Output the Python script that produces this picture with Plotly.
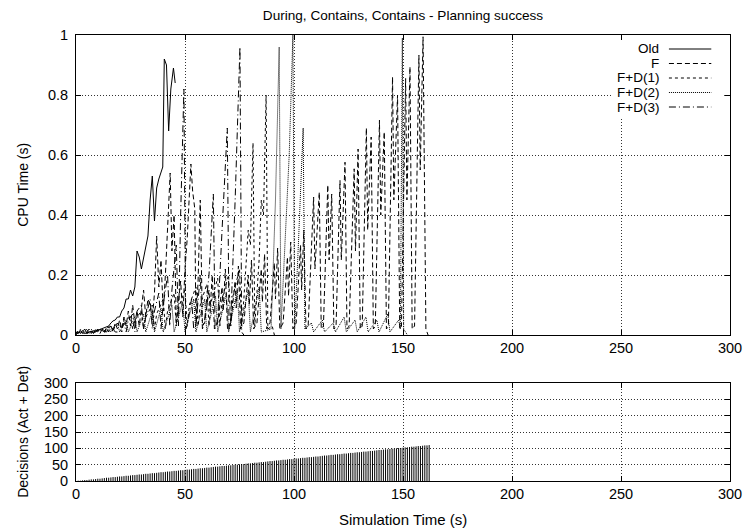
import plotly.graph_objects as go

# ---------------- data ----------------
old_t = [0, 2, 4, 6, 8, 10, 12, 14, 15, 16, 17, 18, 19, 20, 21, 22, 23, 24, 25, 26, 27, 28, 29, 30, 31, 32, 33,
         34, 35, 36, 37, 38, 39, 39.8, 40.5, 41.5, 42.5, 43.5, 44.7, 45.5]
old_y = [0.005, 0.01, 0.005, 0.01, 0.01, 0.015, 0.02, 0.025, 0.03, 0.04, 0.047, 0.05, 0.06, 0.06, 0.08, 0.09,
         0.12, 0.12, 0.15, 0.13, 0.16, 0.28, 0.26, 0.22, 0.26, 0.29, 0.33, 0.45, 0.53, 0.38, 0.49, 0.52, 0.54,
         0.56, 0.92, 0.90, 0.68, 0.82, 0.89, 0.84]

f_t = [0, 1, 2, 3, 4, 5, 6, 7, 8, 9, 10, 11, 12, 13, 14, 15, 16, 17, 18, 19, 20, 21, 22, 23, 24, 25, 26, 27, 28, 29,
       31, 32, 33, 34, 35, 36, 37, 38, 39, 40, 41, 42,
       43.2, 44, 45, 46, 47, 48, 49, 50, 51, 52.7, 53.5, 54.5, 55, 56, 57, 58,
       59, 61, 61.5, 62.5, 63.5,
       65, 67, 67.5, 68.5, 69.5,
       71, 73, 73.5, 74.5, 75.5,
       77, 79, 79.5, 80.5, 81.5,
       83, 85, 85.5, 86.5, 87.5,
       89, 91, 91.5, 92.5, 93.5,
       95, 97, 97.5, 98.5, 99.5,
       101, 103, 103.5, 104.5, 105.5,
       106.5, 109, 109.6, 111.6, 112.5,
       113.5, 115.5, 116.1, 117.3, 118.3,
       119.3, 121.1, 121.7, 123.4, 124.3,
       125.3, 127.6, 128.2, 129.4, 130.4,
       131.3, 133.2, 133.8, 135.4, 136.4,
       137.3, 139.2, 139.8, 141.4, 142.4,
       143.3, 145.2, 145.8, 147.5, 148.5,
       149.3, 151.2, 151.8, 153.2, 154.2,
       155.3, 157.3, 157.9, 159.2, 160.5, 161.5]
f_y = [0.00, 0.01, 0.005, 0.015, 0.005, 0.01, 0.02, 0.005, 0.015, 0.01, 0.02, 0.005, 0.02, 0.01, 0.025, 0.01,
       0.03, 0.015, 0.04, 0.02, 0.05, 0.02, 0.06, 0.03, 0.08, 0.03, 0.10, 0.04, 0.08, 0.03,
       0.15, 0.06, 0.12, 0.10, 0.05, 0.14, 0.33, 0.16, 0.25, 0.08, 0.20, 0.35,
       0.54, 0.28, 0.40, 0.04, 0.10, 0.18, 0.06, 0.22, 0.32, 0.57, 0.48, 0.42, 0.03, 0.18, 0.45, 0.03,
       0.04, 0.15, 0.08, 0.20, 0.02,
       0.04, 0.16, 0.08, 0.22, 0.02,
       0.04, 0.18, 0.09, 0.23, 0.02,
       0.04, 0.20, 0.10, 0.25, 0.02,
       0.04, 0.22, 0.11, 0.27, 0.02,
       0.04, 0.24, 0.12, 0.29, 0.02,
       0.04, 0.26, 0.13, 0.31, 0.02,
       0.04, 0.30, 0.15, 0.35, 0.02,
       0.03, 0.46, 0.22, 0.476, 0.02,
       0.03, 0.50, 0.25, 0.47, 0.02,
       0.03, 0.515, 0.25, 0.576, 0.02,
       0.03, 0.554, 0.28, 0.62, 0.02,
       0.03, 0.69, 0.35, 0.66, 0.02,
       0.03, 0.716, 0.40, 0.677, 0.02,
       0.03, 0.86, 0.45, 0.80, 0.02,
       0.03, 0.855, 0.45, 0.894, 0.02,
       0.03, 0.933, 0.55, 0.994, 0.02, 0.0]

d1_t = [0, 1, 2, 3, 4, 5, 6, 7, 8, 9, 10, 12, 13, 14, 16, 17, 18, 20, 21, 22,
        25, 26, 27, 30, 31, 32, 35, 36, 37, 40, 41, 42, 45, 46, 47, 50, 51, 52, 55, 56, 57,
        60, 61, 62, 65, 66, 67, 70, 71, 72, 75, 76, 77,
        79, 80, 81.2, 82, 84, 85, 86, 87.2, 88, 90, 91]
d1_y = [0.005, 0.015, 0.005, 0.01, 0.02, 0.005, 0.015, 0.01, 0.02, 0.005, 0.015, 0.02, 0.005, 0.02,
        0.03, 0.01, 0.035, 0.04, 0.01, 0.05,
        0.06, 0.02, 0.05, 0.08, 0.02, 0.06, 0.10, 0.02, 0.07, 0.12, 0.02, 0.08, 0.14, 0.03, 0.09,
        0.15, 0.03, 0.10, 0.16, 0.03, 0.10, 0.17, 0.03, 0.11, 0.19, 0.03, 0.12, 0.20, 0.03, 0.13,
        0.22, 0.03, 0.12,
        0.35, 0.30, 0.64, 0.03, 0.25, 0.45, 0.40, 0.80, 0.02, 0.03, 0.0]

d2_t = [0, 1, 2, 3, 4, 5, 6, 7, 8, 9, 10, 11, 13,
        15, 16, 19, 20, 23, 24, 27, 28, 31, 32, 35, 36, 39, 40, 44, 45, 49, 50, 54, 55, 59, 60, 64, 65,
        69, 70, 74, 75, 79, 80, 84, 85,
        89.5, 91.5, 93.2, 94, 96, 97.8, 99.5, 100.3, 102, 104.2, 105,
        108, 109, 113, 114, 118, 119, 123, 124, 128, 129, 133, 134, 138, 139, 143, 144,
        148, 148.8, 149.7, 150.3, 152]
d2_y = [0.01, 0.005, 0.02, 0.005, 0.01, 0.02, 0.005, 0.015, 0.005, 0.02, 0.01, 0.02, 0.01,
        0.03, 0.01, 0.04, 0.01, 0.05, 0.01, 0.06, 0.01, 0.07, 0.01, 0.08, 0.01, 0.09, 0.01, 0.10, 0.01,
        0.11, 0.01, 0.12, 0.01, 0.12, 0.01, 0.13, 0.01, 0.14, 0.01, 0.15, 0.01, 0.15, 0.01, 0.16, 0.01,
        0.02, 0.45, 0.96, 0.02, 0.35, 0.6, 1.0, 0.02, 0.3, 0.69, 0.02,
        0.04, 0.01, 0.05, 0.01, 0.04, 0.01, 0.06, 0.01, 0.05, 0.01, 0.06, 0.01, 0.05, 0.01, 0.07, 0.01,
        0.05, 0.02, 0.99, 0.02, 0.0]

d3_t = [0, 1, 2, 3, 4, 5, 6, 7, 8, 9, 10, 12, 14, 16, 18, 20, 22, 23, 24, 26, 27, 28, 30, 31, 32, 34, 35, 36,
        38, 39, 40, 42, 43, 44, 46, 47, 48, 49.5, 50.3, 51, 53, 54, 55, 57, 58, 59, 61, 63, 63.8, 65, 67, 69.4,
        70.2, 71, 73, 75.2, 76, 77]
d3_y = [0.01, 0.005, 0.015, 0.01, 0.02, 0.005, 0.01, 0.02, 0.005, 0.015, 0.01, 0.02, 0.01, 0.03, 0.01, 0.01,
        0.04, 0.01, 0.05, 0.07, 0.01, 0.08, 0.10, 0.02, 0.06, 0.12, 0.02, 0.08, 0.14, 0.02, 0.10, 0.20, 0.03,
        0.15, 0.30, 0.03, 0.40, 0.82, 0.02, 0.03, 0.12, 0.02, 0.03, 0.20, 0.02, 0.05, 0.20, 0.47, 0.02, 0.05,
        0.35, 0.69, 0.02, 0.05, 0.45, 0.96, 0.01, 0.0]

dec_t = list(range(1, 163))
dec_v = [1, 1, 2, 3, 3, 4, 5, 5, 6, 7,
         7, 8, 9, 10, 10, 11, 12, 12, 13, 14,
         14, 15, 16, 16, 17, 18, 18, 19, 20, 20,
         21, 22, 22, 23, 24, 24, 25, 26, 27, 27,
         28, 29, 29, 30, 31, 31, 32, 33, 33, 34,
         35, 35, 36, 37, 37, 38, 39, 39, 40, 41,
         41, 42, 43, 44, 44, 45, 46, 46, 47, 48,
         48, 49, 50, 50, 51, 52, 52, 53, 54, 54,
         55, 56, 56, 57, 58, 58, 59, 60, 61, 61,
         62, 63, 63, 64, 65, 65, 66, 67, 67, 68,
         69, 69, 70, 71, 71, 72, 73, 73, 74, 75,
         75, 76, 77, 78, 78, 79, 80, 80, 81, 82,
         82, 83, 84, 84, 85, 86, 86, 87, 88, 88,
         89, 90, 90, 91, 92, 92, 93, 94, 95, 95,
         96, 97, 97, 98, 99, 99, 100, 101, 101, 102,
         103, 103, 104, 105, 105, 106, 107, 107, 108, 109, 109, 110]

series_names = ["Old", "F", "F+D(1)", "F+D(2)", "F+D(3)"]
series_dash = ["solid", "5px,3px", "3px,3px", "1px,1px", "7px,3px,1px,3px"]

title_text = "During, Contains, Contains - Planning success"
x_title = "Simulation Time (s)"
y_title_top = "CPU Time (s)"
y_title_bot = "Decisions (Act + Det)"

# ---------------- figure ----------------
# the page body has an 8px margin, so the figure is drawn 8px smaller and all
# reference pixel positions are shifted by that offset
OFF = 8
FONT = "Liberation Sans, Arial, Helvetica, sans-serif"
W, H = 754 - OFF, 532 - OFF
PL, PR, PT, PB = 76, 740, 35, 481          # plot frame in reference pixels
L, R, T, B = PL - OFF, 754 - PR, PT - OFF, 532 - PB
plot_w = PR - PL
plot_h = PB - PT
top_lo = (PB - 335) / plot_h
bot_hi = (PB - 383) / plot_h


def px_x(p):
    return (p - PL) / plot_w


def px_y(p):
    return (PB - p) / plot_h


fig = go.Figure()
data_sets = [(old_t, old_y), (f_t, f_y), (d1_t, d1_y), (d2_t, d2_y), (d3_t, d3_y)]
for (tt, yy), name, dash in zip(data_sets, series_names, series_dash):
    fig.add_trace(go.Scatter(x=tt, y=yy, mode="lines", name=name, showlegend=False,
                             line=dict(color="black", width=1, dash=dash),
                             xaxis="x", yaxis="y"))

# impulses for the decisions panel
imp_x, imp_y = [], []
for t, v in zip(dec_t, dec_v):
    imp_x += [t, t, None]
    imp_y += [0, v, None]
fig.add_trace(go.Scatter(x=imp_x, y=imp_y, mode="lines", line=dict(color="black", width=1),
                         showlegend=False, xaxis="x2", yaxis="y2", name="Decisions"))

axis_common = dict(showline=True, linecolor="black", linewidth=1, mirror="ticks",
                   ticks="inside", ticklen=5, tickcolor="black", tickwidth=1,
                   showgrid=True, gridcolor="#333", griddash="1px,2px", gridwidth=1,
                   zeroline=False, tickfont=dict(family=FONT, size=14.5, color="black"))

fig.update_layout(
    width=W, height=H,
    margin=dict(l=L, r=R, t=T, b=B),
    paper_bgcolor="white", plot_bgcolor="white",
    xaxis=dict(domain=[0, 1], anchor="y", range=[0, 300], tick0=0, dtick=50, **axis_common),
    yaxis=dict(domain=[top_lo, 1], anchor="x", range=[0, 1], tick0=0, dtick=0.2,
               ticklabelstandoff=4, **axis_common),
    xaxis2=dict(domain=[0, 1], anchor="y2", range=[0, 300], tick0=0, dtick=50, **axis_common),
    yaxis2=dict(domain=[0, bot_hi], anchor="x2", range=[0, 300], tick0=0, dtick=50,
                ticklabelstandoff=4, **axis_common),
    title=dict(text=title_text, x=0.5, xref="paper", xanchor="center",
               y=1 - (15 - OFF) / H, yref="container", yanchor="middle",
               font=dict(family=FONT, size=13.6, color="black")),
)

annotations = [
    dict(text=y_title_top, x=px_x(22), y=px_y(185), xref="paper", yref="paper", textangle=-90,
         showarrow=False, xanchor="center", yanchor="middle", font=dict(family=FONT, size=14, color="black")),
    dict(text=y_title_bot, x=px_x(22), y=px_y(432), xref="paper", yref="paper", textangle=-90,
         showarrow=False, xanchor="center", yanchor="middle", font=dict(family=FONT, size=14, color="black")),
    dict(text=x_title, x=0.5, y=px_y(520), xref="paper", yref="paper", showarrow=False,
         xanchor="center", yanchor="middle", font=dict(family=FONT, size=15, color="black")),
]

# custom key (text right-aligned, sample line on the right) on an opaque background
shapes = [dict(type="rect", xref="paper", yref="paper", x0=px_x(620), x1=px_x(734), y0=px_y(117),
               y1=px_y(40), fillcolor="white", line=dict(width=0), layer="above")]
rows = [49, 63.5, 78, 92.5, 107]
for name, dash, ry in zip(series_names, series_dash, rows):
    annotations.append(dict(text=name, x=px_x(670), y=px_y(ry), xref="paper", yref="paper",
                            showarrow=False, xanchor="right", yanchor="middle",
                            font=dict(family=FONT, size=13.5, color="black")))
    shapes.append(dict(type="line", xref="paper", yref="paper", x0=px_x(678), x1=px_x(721),
                       y0=px_y(ry), y1=px_y(ry), line=dict(color="black", width=1, dash=dash),
                       layer="above"))

fig.update_layout(annotations=annotations, shapes=shapes)
fig.write_html("out.html")
